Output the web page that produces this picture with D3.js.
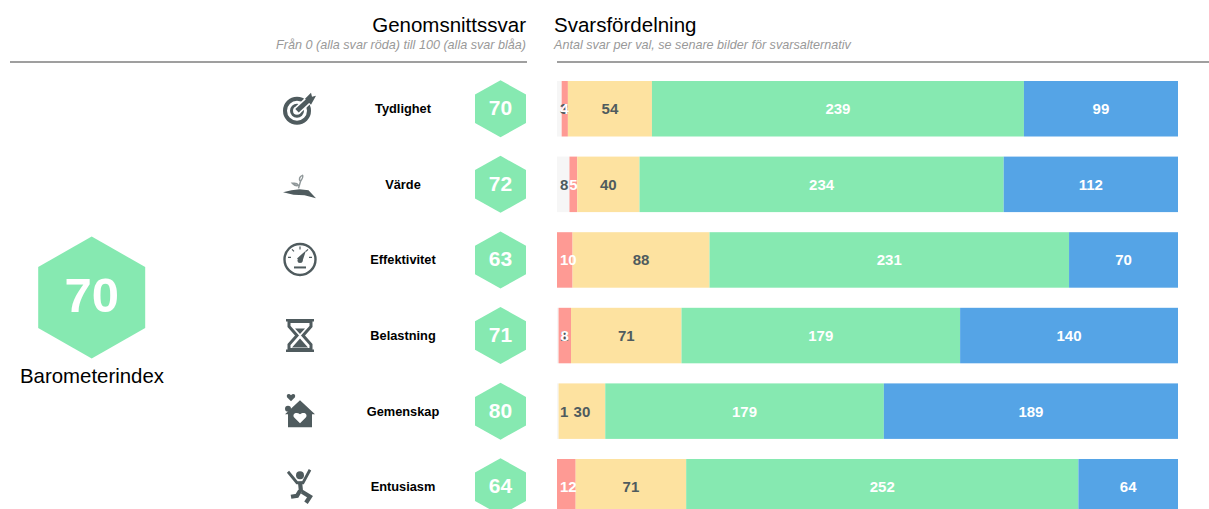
<!DOCTYPE html>
<html><head><meta charset="utf-8">
<script src="https://cdn.jsdelivr.net/npm/d3@7"></script>
<style>html,body{margin:0;padding:0;background:#fff;overflow:hidden}svg{display:block}
text{font-family:"Liberation Sans",Arial,sans-serif}</style></head>
<body><div id="c"></div>
<script>
const categories=["Tydlighet","Värde","Effektivitet","Belastning","Gemenskap","Entusiasm"];
const scores=[70,72,63,71,80,64];
const indexScore=70, indexLabel="Barometerindex";
const grey=[3,8,0,1,1,0];
const red=[4,5,10,8,0,12];
const yellow=[54,40,88,71,30,71];
const green=[239,234,231,179,179,252];
const blue=[99,112,70,140,189,64];
const seriesNames=["grey","red","yellow","green","blue"];
const seriesColors=["#f6f6f6","#fe9a94","#fde2a0","#86e9b1","#55a4e6"];
const labelColors=["#4f5b5e","#fff","#4f5b5e","#fff","#fff"];
const rows=categories.map((c,i)=>({c,grey:grey[i],red:red[i],yellow:yellow[i],green:green[i],blue:blue[i]}));
const W=1209,H=509;
const svg=d3.select("#c").append("svg").attr("width",W).attr("height",H);
const y=d3.scaleBand().domain(categories).range([81,514.5]).paddingInner(0.2659).paddingOuter(0);
const x=d3.scaleLinear().domain([0,399]).range([557,1178]);
const stack=d3.stack().keys(seriesNames)(rows);
const hex=(cx,cy,w,h)=>d3.line()([[cx,cy-h/2],[cx+w/2,cy-h/4],[cx+w/2,cy+h/4],[cx,cy+h/2],[cx-w/2,cy+h/4],[cx-w/2,cy-h/4]])+"Z";
// headers
svg.append("text").attr("x",526).attr("y",32).attr("text-anchor","end").attr("font-size",20.5).attr("fill","#000").text("Genomsnittssvar");
svg.append("text").attr("x",526).attr("y",49).attr("text-anchor","end").attr("font-size",12.6).attr("font-style","italic").attr("fill","#999").text("Från 0 (alla svar röda) till 100 (alla svar blåa)");
svg.append("text").attr("x",554).attr("y",32).attr("font-size",20.5).attr("fill","#000").text("Svarsfördelning");
svg.append("text").attr("x",554).attr("y",49).attr("font-size",12.6).attr("font-style","italic").attr("fill","#999").text("Antal svar per val, se senare bilder för svarsalternativ");
svg.append("line").attr("x1",10).attr("x2",527).attr("y1",62).attr("y2",62).attr("stroke","#7f7f7f").attr("stroke-width",1.5);
svg.append("line").attr("x1",557).attr("x2",1209).attr("y1",62).attr("y2",62).attr("stroke","#7f7f7f").attr("stroke-width",1.5);
// index
svg.append("path").attr("d",hex(91.7,297.5,107,122)).attr("fill",seriesColors[3]);
svg.append("text").attr("x",91.7).attr("y",312).attr("text-anchor","middle").attr("font-size",49).attr("font-weight","bold").attr("fill","#fff").text(indexScore);
svg.append("text").attr("x",92).attr("y",383).attr("text-anchor","middle").attr("font-size",20.4).attr("fill","#000").text(indexLabel);
// bars
stack.forEach((s,k)=>{
  svg.append("g").selectAll("rect").data(s).join("rect")
    .attr("x",d=>x(d[0])).attr("width",d=>x(d[1])-x(d[0]))
    .attr("y",d=>y(d.data.c)).attr("height",y.bandwidth()).attr("fill",seriesColors[k]);
});
stack.forEach((s,k)=>{
  svg.append("g").selectAll("text").data(s.filter(d=>d[1]>d[0])).join("text")
    .attr("y",d=>y(d.data.c)+y.bandwidth()/2+5.5)
    .attr("text-anchor","middle").attr("font-size",15).attr("font-weight","bold")
    .attr("fill",labelColors[k]).text(d=>d[1]-d[0])
    .attr("x",function(d){const w=this.getComputedTextLength();return Math.max((x(d[0])+x(d[1]))/2,560+w/2);});
});
// row labels and hexes
const g=svg.append("g").selectAll("g").data(categories).join("g");
g.append("text").attr("x",403).attr("y",c=>y(c)+y.bandwidth()/2+4.5).attr("text-anchor","middle").attr("font-size",12.8).attr("font-weight","bold").attr("fill","#000").text(c=>c);
g.append("path").attr("d",c=>hex(500.5,y(c)+y.bandwidth()/2,51,57)).attr("fill",seriesColors[3]);
g.append("text").attr("x",500.5).attr("y",c=>y(c)+y.bandwidth()/2+6.5).attr("text-anchor","middle").attr("font-size",21).attr("font-weight","bold").attr("fill","#fff").text((c,i)=>scores[i]);
// icons, each drawn around its own centre
const ic="#4f5b5e";
const icons={
 Tydlighet(n){
  n.append("circle").attr("r",12).attr("cx",-3).attr("cy",2).attr("fill","none").attr("stroke",ic).attr("stroke-width",4);
  n.append("circle").attr("r",5.5).attr("cx",-3).attr("cy",2).attr("fill","none").attr("stroke",ic).attr("stroke-width",3);
  n.append("path").attr("d","M-3 2L9 -9").attr("stroke","#fff").attr("stroke-width",8);
  n.append("path").attr("d","M-3 2L9 -9").attr("stroke",ic).attr("stroke-width",5);
  n.append("path").attr("d","M5 -10L11 -16L12 -12L16 -13L11 -4Z").attr("fill",ic);
 },
 "Värde"(n){
  n.append("path").attr("d","M-16.5 7L-8 5L0 4L9 5L16.5 13L5 10L-6 9.5Z").attr("fill",ic);
  n.append("path").attr("d","M-1 3L1 -4M1 -4C3 -7 4 -9 3 -10C0 -9 -1 -6 1 -4M-1 0C-3 -3 -5 -2 -7 -2C-5 0 -3 1 -1 0").attr("fill","none").attr("stroke","#8f9799").attr("stroke-width",1.5);
 },
 Effektivitet(n){
  n.append("circle").attr("r",15.5).attr("fill","none").attr("stroke",ic).attr("stroke-width",2.4);
  n.append("path").attr("d","M-3 -1L6 -9L2 3Z").attr("fill",ic);
  n.append("circle").attr("r",2.5).attr("cy",1).attr("fill",ic);
  n.append("path").attr("d","M-6 8H6").attr("stroke",ic).attr("stroke-width",2);
  n.append("path").attr("d","M0 -13V-10M-8 -10L-6 -8M8 -10L6 -8M-12 -2H-9M12 -2H9").attr("stroke",ic).attr("stroke-width",1.2);
 },
 Belastning(n){
  n.append("path").attr("d","M-14 -16.5H14V-14H-14ZM-14 14H14V16.5H-14Z").attr("fill",ic);
  n.append("path").attr("d","M-11 -14H11V-9L3 0L11 9V14H-11V9L-3 0L-11 -9Z").attr("fill","#fff").attr("stroke",ic).attr("stroke-width",3);
  n.append("path").attr("d","M-5 -7H5L0 -1.5ZM-8 12L0 3L8 12Z").attr("fill",ic);
 },
 Gemenskap(n){
  n.append("path").attr("d","M0 -11L15 3H12V16H-12V3H-15Z").attr("fill",ic);
  n.append("path").attr("d","M0 12L-6 6C-8 3 -4 0 0 3C4 0 8 3 6 6Z").attr("fill","#fff");
  n.append("path").attr("d","M-9 -10L-13 -14C-14 -17 -11 -18 -9 -16C-7 -18 -4 -17 -5 -14Z").attr("fill",ic);
  n.append("circle").attr("cx",-12).attr("cy",-2.5).attr("r",3).attr("fill",ic);
 },
 Entusiasm(n){
  n.append("circle").attr("cx",0).attr("cy",-11.5).attr("r",4).attr("fill",ic);
  n.append("path").attr("d","M-12 -15L-3 -4H3L10 -17").attr("fill","none").attr("stroke",ic).attr("stroke-width",2.8);
  n.append("path").attr("d","M0 -5L1 5M0 4L-3 9L-9 10M2 5L10 10L6 16").attr("fill","none").attr("stroke",ic).attr("stroke-width",4.2);
 }
};
const iconX=[300,299.5,300,300,300,300], iconDY=[0,1,-0.5,0,0,0];
categories.forEach((c,i)=>{
  const n=svg.append("g").attr("transform",`translate(${iconX[i]},${y(c)+y.bandwidth()/2+iconDY[i]})`);
  icons[c](n);
});
</script></body></html>
